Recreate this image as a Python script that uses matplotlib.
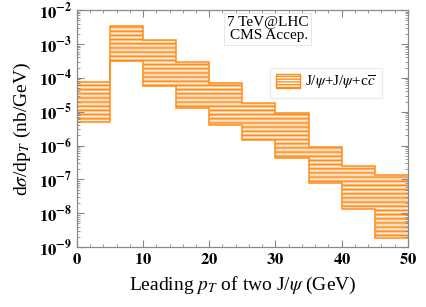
import numpy as np
import matplotlib
matplotlib.use('Agg')
import matplotlib.pyplot as plt
from matplotlib.ticker import MultipleLocator, LogLocator, FixedLocator, FuncFormatter, NullFormatter
from matplotlib.patches import Rectangle

plt.rcParams['font.family'] = ['Liberation Serif', 'DejaVu Serif']
plt.rcParams['mathtext.fontset'] = 'stix'
plt.rcParams['hatch.linewidth'] = 1.0

# ---- data ----
bin_edges = [0, 5, 10, 15, 20, 25, 30, 35, 40, 45, 50]
upper = [7.7e-5, 3.4e-3, 1.34e-3, 2.9e-4, 6.9e-5, 1.8e-5, 8.9e-6, 9.3e-7, 2.5e-7, 1.35e-7]
lower = [4.9e-6, 3.2e-4, 5.8e-5, 1.3e-5, 4.1e-6, 1.47e-6, 4.2e-7, 8.1e-8, 1.3e-8, 1.9e-9]
series_label = r'J/$\psi$+J/$\psi$+c$\overline{c}$'
note_text = '7 TeV@LHC\nCMS Accep.'

ORANGE = '#ff8c1a'
LIGHT = '#ffcf9e'

fig = plt.figure(figsize=(4.27, 3.07), dpi=100)
ax = fig.add_axes([0.180, 0.195, 0.775, 0.772])

left = np.array(bin_edges[:-1])
widths = np.diff(bin_edges)
heights = np.array(upper) - np.array(lower)

# band hatching: light lines underneath, darker lines on top
ax.bar(left, heights, width=widths, bottom=lower, align='edge',
       facecolor='none', edgecolor=LIGHT, linewidth=0, hatch='--------')
ax.bar(left, heights, width=widths, bottom=lower, align='edge',
       facecolor='none', edgecolor=ORANGE, linewidth=0, hatch='----')
# upper / lower step outlines
ax.stairs(upper, bin_edges, color=ORANGE, linewidth=1.1, baseline=None)
ax.stairs(lower, bin_edges, color=ORANGE, linewidth=1.1, baseline=None)

ax.set_yscale('log')
ax.set_xlim(0, 50)
ax.set_ylim(1e-9, 1e-2)

ax.xaxis.set_major_locator(MultipleLocator(10))
ax.xaxis.set_minor_locator(MultipleLocator(2))
ax.yaxis.set_major_locator(FixedLocator([10.0 ** k for k in range(-9, -1)]))
ax.yaxis.set_minor_locator(LogLocator(base=10, subs=np.arange(2, 10)))
ax.yaxis.set_minor_formatter(NullFormatter())
ax.yaxis.set_major_formatter(FuncFormatter(
    lambda v, p: r'$\mathbf{10^{%d}}$' % int(round(np.log10(v)))))
ax.xaxis.set_major_formatter(FuncFormatter(lambda v, p: r'$\mathbf{%d}$' % v))

for s in ax.spines.values():
    s.set_color('#888888')
    s.set_linewidth(0.9)
ax.tick_params(which='both', direction='in', top=True, right=True,
               color='#888888', labelsize=12)
ax.tick_params(which='major', length=5)
ax.tick_params(which='minor', length=2.5)

ax.set_xlabel(r'Leading $p_T$ of two J/$\psi$ (GeV)', fontsize=14, labelpad=5)
ax.set_ylabel(r'd$\sigma$/dp$_T$ (nb/GeV)', fontsize=14, labelpad=4)

ax.text(0.70, 0.975, note_text, transform=ax.transAxes, ha='right', va='top',
        multialignment='right', fontsize=11, linespacing=1.0,
        bbox=dict(facecolor='white', edgecolor='#e6e6e6', linewidth=0.8, pad=2))

handle = Rectangle((0, 0), 1, 1, facecolor='none', edgecolor=ORANGE,
                   hatch='------', linewidth=1.0)
leg = ax.legend([handle], [series_label], loc='upper right',
                bbox_to_anchor=(0.945, 0.79), fontsize=11, frameon=True,
                fancybox=False, edgecolor='#e6e6e6', handlelength=1.6,
                handleheight=1.0, borderpad=0.4, handletextpad=0.3)
leg.get_frame().set_linewidth(0.8)

fig.savefig('out.png', dpi=100)
